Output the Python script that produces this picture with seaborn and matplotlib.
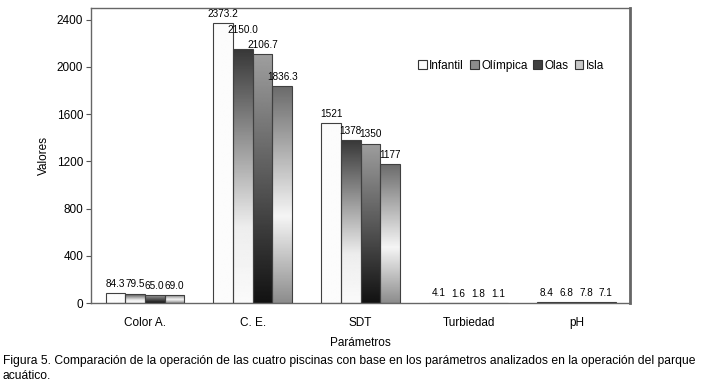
import numpy as np
import pandas as pd
import matplotlib
matplotlib.use("Agg")
import matplotlib.pyplot as plt
import seaborn as sns

# Data
parametros = ["Color A.", "C. E.", "SDT", "Turbiedad", "pH"]
piscinas = ["Infantil", "Olímpica", "Olas", "Isla"]
infantil = [84.3, 2373.2, 1521, 4.1, 8.4]
olimpica = [79.5, 2150.0, 1378, 1.6, 6.8]
olas = [65.0, 2106.7, 1350, 1.8, 7.8]
isla = [69.0, 1836.3, 1177, 1.1, 7.1]
etiquetas = {
    "Infantil": ["84.3", "2373.2", "1521", "4.1", "8.4"],
    "Olímpica": ["79.5", "2150.0", "1378", "1.6", "6.8"],
    "Olas": ["65.0", "2106.7", "1350", "1.8", "7.8"],
    "Isla": ["69.0", "1836.3", "1177", "1.1", "7.1"],
}

df = pd.DataFrame({
    "Parametro": parametros * 4,
    "Piscina": sum([[p] * 5 for p in piscinas], []),
    "Valor": infantil + olimpica + olas + isla,
})

sns.set_style("white")
plt.rcParams["font.family"] = ["Liberation Sans", "DejaVu Sans"]
plt.rcParams["text.color"] = "black"
plt.rcParams["axes.labelcolor"] = "black"
plt.rcParams["xtick.labelcolor"] = "black"
plt.rcParams["ytick.labelcolor"] = "black"

fig = plt.figure(figsize=(7.05, 3.92), dpi=100)
ax = fig.add_axes([0.129, 0.227, 0.765, 0.753])

sns.barplot(data=df, x="Parametro", y="Valor", hue="Piscina", order=parametros,
            hue_order=piscinas, width=0.73, edgecolor="#404040", linewidth=0.8,
            palette=["#fafafa", "#8c8c8c", "#404040", "#c8c8c8"], ax=ax, legend=True)

# gradient fills (top -> bottom grey levels)
gradientes = {
    "Infantil": ([0.0, 1.0], [0.985, 0.985]),
    "Olímpica": ([0.0, 0.7, 1.0], [0.22, 0.93, 0.98]),
    "Olas": ([0.0, 0.5, 1.0], [0.62, 0.35, 0.07]),
    "Isla": ([0.0, 0.6, 1.0], [0.42, 0.96, 0.55]),
}
t = np.linspace(0, 1, 200)
for cont, nombre in zip(ax.containers, piscinas):
    pos, niv = gradientes[nombre]
    grad = np.interp(t, pos, niv).reshape(-1, 1)
    for patch, txt in zip(cont.patches, etiquetas[nombre]):
        x0 = patch.get_x()
        w = patch.get_width()
        h = patch.get_height()
        patch.set_facecolor("none")
        patch.set_zorder(3)
        im = ax.imshow(grad, extent=[x0, x0 + w, 0, h], aspect="auto", cmap="gray",
                       vmin=0, vmax=1, zorder=2, interpolation="bilinear")
        im.set_clip_path(patch)
        # the 2150.0 label sits higher in the original to clear its neighbour
        extra = 7 if txt == "2150.0" else 0
        ax.annotate(txt, (x0 + w / 2, h), xytext=(0, 3 + extra), textcoords="offset points",
                    ha="center", va="bottom", fontsize=7.2)

ax.set_xlim(-0.5, 4.5)
ax.set_ylim(0, 2500)
ax.set_yticks(range(0, 2401, 400))
ax.set_xticks(range(5))
ax.set_xticklabels(parametros)
ax.set_xticks(np.arange(-0.5, 4.6, 1), minor=True)
ax.tick_params(axis="x", which="major", length=0, labelsize=8.5, pad=10)
ax.tick_params(axis="x", which="minor", length=4, width=0.8, color="#555555", direction="out")
ax.tick_params(axis="y", length=3.5, width=0.8, color="#555555", direction="out", labelsize=8.5,
               left=True, pad=2)
ax.set_xlabel("Parámetros", fontsize=8.5, labelpad=6)
ax.set_ylabel("Valores", fontsize=8.5, labelpad=5)

for lado in ["left", "bottom", "top"]:
    ax.spines[lado].set_color("#666666")
    ax.spines[lado].set_linewidth(1.0)
ax.spines["right"].set_color("#666666")
ax.spines["right"].set_linewidth(2.0)

leg = ax.legend(loc="upper right", bbox_to_anchor=(0.96, 0.84), ncol=4, frameon=False,
                fontsize=8.5, handlelength=0.75, handleheight=0.75, handletextpad=0.2,
                columnspacing=0.5, borderaxespad=0)
for h in leg.legend_handles:
    h.set_edgecolor("#333333")
    h.set_linewidth(0.8)

fig.text(0.004, 0.095, "Figura 5. Comparación de la operación de las cuatro piscinas con base en los "
         "parámetros analizados en la operación del parque\nacuático.",
         fontsize=8.7, ha="left", va="top", linespacing=1.35)

fig.savefig("out.png", dpi=100)
